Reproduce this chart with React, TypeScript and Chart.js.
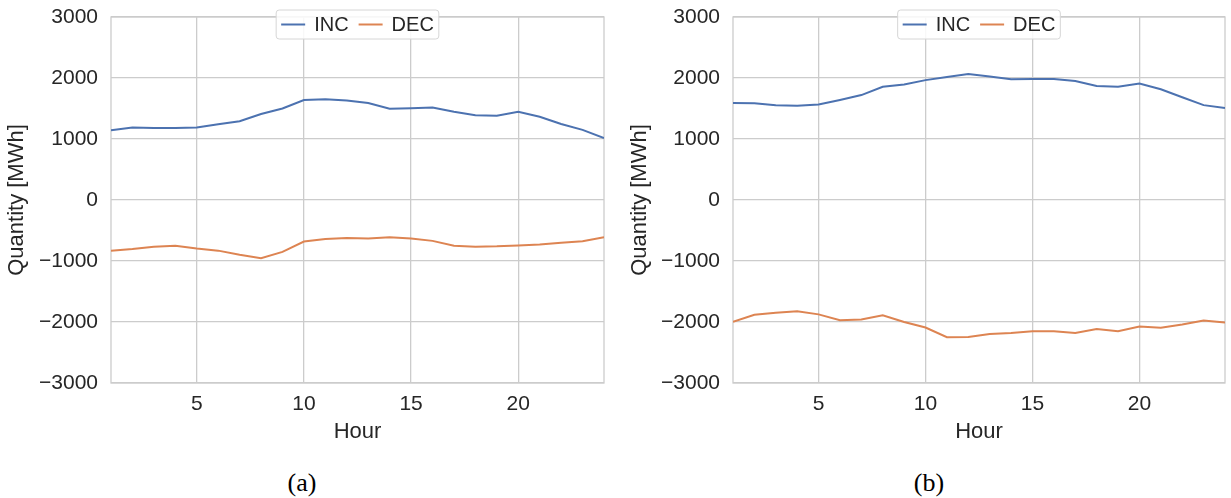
import React, { useEffect, useRef } from "react";
import { Chart, registerables } from "chart.js";

Chart.register(...registerables);

const HOURS = [1, 2, 3, 4, 5, 6, 7, 8, 9, 10, 11, 12, 13, 14, 15, 16, 17, 18, 19, 20, 21, 22, 23, 24];
const X_TICKS = [5, 10, 15, 20];
const Y_MIN = -3000;
const Y_MAX = 3000;
const Y_STEP = 1000;

const INC_A = [1145, 1190, 1180, 1180, 1190, 1240, 1290, 1410, 1500, 1640, 1650, 1630, 1590, 1495, 1505, 1515, 1445, 1390, 1380, 1445, 1365, 1245, 1150, 1015];
const DEC_A = [-830, -805, -765, -750, -795, -830, -897, -955, -850, -680, -640, -625, -630, -610, -630, -670, -750, -765, -760, -745, -730, -700, -675, -610];
const INC_B = [1590, 1587, 1555, 1545, 1565, 1640, 1720, 1855, 1895, 1965, 2015, 2065, 2025, 1980, 1985, 1985, 1950, 1870, 1855, 1910, 1815, 1685, 1555, 1510];
const DEC_B = [-1995, -1880, -1850, -1825, -1875, -1970, -1960, -1890, -2000, -2090, -2250, -2245, -2195, -2180, -2150, -2150, -2180, -2115, -2150, -2075, -2095, -2040, -1975, -2010];

const SERIES_LABELS = ["INC", "DEC"];
const SERIES_COLORS = ["#4c72b0", "#dd8452"];
const Y_TITLE = "Quantity [MWh]";
const X_TITLE = "Hour";
const CAPTIONS = ["(a)", "(b)"];

const FONT = '"Liberation Sans", Arial, Helvetica, sans-serif';
const TEXT = "#262626";
const GRID = "#cccccc";

const frameLegend = {
  id: "frameLegend",
  beforeDatasetsDraw(chart: any) {
    const { ctx, chartArea: a } = chart;
    ctx.save();
    ctx.strokeStyle = GRID;
    ctx.lineWidth = 1.3;
    ctx.strokeRect(a.left, a.top, a.right - a.left, a.bottom - a.top);
    ctx.restore();
  },
  afterDatasetsDraw(chart: any) {
    const { ctx, chartArea: a } = chart;
    ctx.save();
    ctx.font = `20px ${FONT}`;
    const items = chart.data.datasets.map((ds: any) => ({
      label: ds.label,
      color: ds.borderColor,
      w: ctx.measureText(ds.label).width,
    }));
    const pad = 5, handle = 24, hgap = 9, colgap = 10, h = 29;
    let total = pad * 2;
    items.forEach((it: any, i: number) => {
      total += handle + hgap + it.w + (i ? colgap : 0);
    });
    const x0 = (a.left + a.right) / 2 - total / 2;
    const y0 = a.top - 7;
    const r = 3;
    ctx.beginPath();
    ctx.moveTo(x0 + r, y0);
    ctx.lineTo(x0 + total - r, y0);
    ctx.arcTo(x0 + total, y0, x0 + total, y0 + r, r);
    ctx.lineTo(x0 + total, y0 + h - r);
    ctx.arcTo(x0 + total, y0 + h, x0 + total - r, y0 + h, r);
    ctx.lineTo(x0 + r, y0 + h);
    ctx.arcTo(x0, y0 + h, x0, y0 + h - r, r);
    ctx.lineTo(x0, y0 + r);
    ctx.arcTo(x0, y0, x0 + r, y0, r);
    ctx.closePath();
    ctx.fillStyle = "rgba(255,255,255,0.85)";
    ctx.fill();
    ctx.strokeStyle = "#d6d6d6";
    ctx.lineWidth = 1;
    ctx.stroke();
    let x = x0 + pad;
    const cy = y0 + h / 2;
    items.forEach((it: any, i: number) => {
      if (i) x += colgap;
      ctx.beginPath();
      ctx.strokeStyle = it.color;
      ctx.lineWidth = 2;
      ctx.moveTo(x, cy);
      ctx.lineTo(x + handle, cy);
      ctx.stroke();
      x += handle + hgap;
      ctx.fillStyle = TEXT;
      ctx.textBaseline = "middle";
      ctx.textAlign = "left";
      ctx.fillText(it.label, x, cy + 1);
      x += it.w;
    });
    ctx.restore();
  },
};

function fmt(v: number) {
  return v < 0 ? "\u2212" + Math.abs(v) : String(v);
}

type PanelProps = {
  inc: number[];
  dec: number[];
  left: number;
  width: number;
  yWidth: number;
  rightPad: number;
  yTitlePad: number;
};

function Panel({ inc, dec, left, width, yWidth, rightPad, yTitlePad }: PanelProps) {
  const ref = useRef<HTMLCanvasElement | null>(null);
  useEffect(() => {
    if (!ref.current) return;
    const series = [inc, dec];
    const chart = new Chart(ref.current, {
      type: "line",
      data: {
        datasets: series.map((s, i) => ({
          label: SERIES_LABELS[i],
          data: HOURS.map((hr, j) => ({ x: hr, y: s[j] })),
          borderColor: SERIES_COLORS[i],
          backgroundColor: SERIES_COLORS[i],
          borderWidth: 2,
          pointRadius: 0,
          tension: 0,
          fill: false,
        })),
      },
      options: {
        animation: false,
        responsive: false,
        maintainAspectRatio: false,
        layout: { padding: { left: 0, right: rightPad, top: 17, bottom: 0 } },
        plugins: { legend: { display: false }, tooltip: { enabled: false } },
        scales: {
          x: {
            type: "linear",
            min: HOURS[0],
            max: HOURS[HOURS.length - 1],
            afterBuildTicks: (s: any) => {
              s.ticks = X_TICKS.map((v) => ({ value: v }));
            },
            afterFit: (s: any) => {
              s.height = 67;
              s.paddingLeft = 0;
              s.paddingRight = 0;
            },
            grid: { color: GRID, lineWidth: 1.3, drawTicks: false },
            border: { display: false },
            ticks: {
              padding: 9,
              color: TEXT,
              font: { family: FONT, size: 21 },
              maxRotation: 0,
              autoSkip: false,
              callback: (v: any) => String(v),
            },
            title: {
              display: true,
              text: X_TITLE,
              color: TEXT,
              font: { family: FONT, size: 22 },
              padding: { top: 0, bottom: 5 },
            },
          },
          y: {
            min: Y_MIN,
            max: Y_MAX,
            afterFit: (s: any) => {
              s.width = yWidth;
              s.paddingTop = 0;
              s.paddingBottom = 0;
            },
            grid: { color: GRID, lineWidth: 1.3, drawTicks: false },
            border: { display: false },
            ticks: {
              stepSize: Y_STEP,
              padding: 13,
              color: TEXT,
              font: { family: FONT, size: 21 },
              callback: (v: any) => fmt(Number(v)),
            },
            title: {
              display: true,
              text: Y_TITLE,
              color: TEXT,
              font: { family: FONT, size: 22 },
              padding: { top: yTitlePad, bottom: 0 },
            },
          },
        },
      },
      plugins: [frameLegend],
    } as any);
    return () => chart.destroy();
  }, []);
  return (
    <canvas
      ref={ref}
      width={width}
      height={450}
      style={{ position: "absolute", left, top: 0, width, height: 450 }}
    />
  );
}

export default function App() {
  return (
    <div style={{ position: "fixed", left: 0, top: 0, width: 1231, height: 498, background: "#fff", overflow: "hidden" }}>
      <Panel inc={INC_A} dec={DEC_A} left={0} width={615} yWidth={111} rightPad={11} yTitlePad={4} />
      <Panel inc={INC_B} dec={DEC_B} left={620} width={611} yWidth={113} rightPad={6} yTitlePad={7} />
      {CAPTIONS.map((c, i) => (
        <div
          key={c}
          style={{
            position: "absolute",
            left: i === 0 ? 302 - 50 : 929 - 50,
            width: 100,
            top: 468,
            height: 30,
            lineHeight: "30px",
            textAlign: "center",
            fontFamily: '"Liberation Serif", "DejaVu Serif", serif',
            fontSize: 26,
            color: "#000",
          }}
        >
          {c}
        </div>
      ))}
    </div>
  );
}
